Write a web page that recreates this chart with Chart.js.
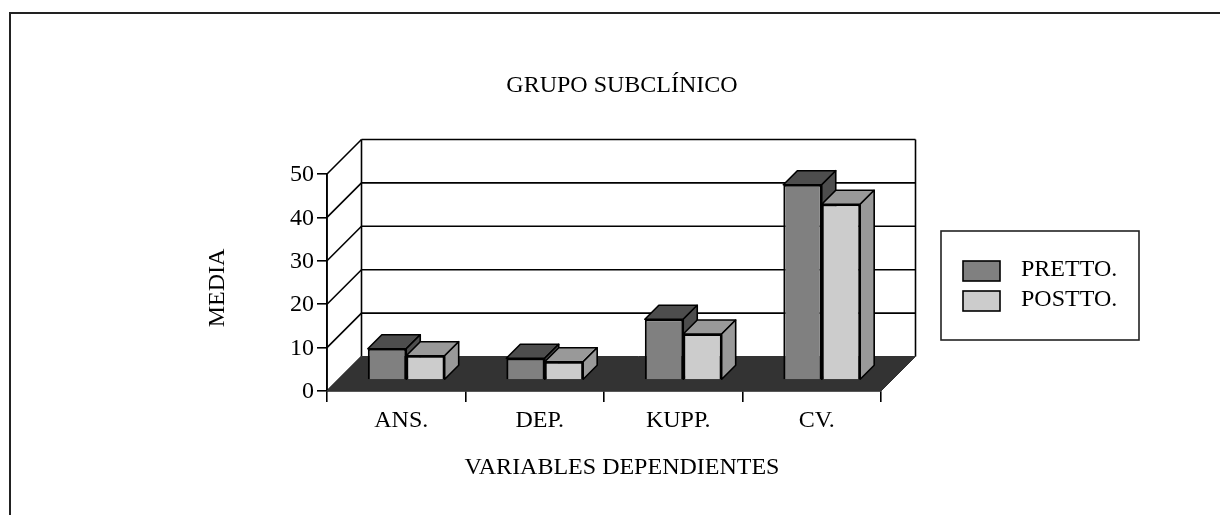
<!DOCTYPE html>
<html>
<head>
<meta charset="utf-8">
<title>Grupo subclínico</title>
<script src="https://cdn.jsdelivr.net/npm/chart.js@4"></script>
<style>
    html, body { margin: 0; padding: 0; background: #fff; }
    #wrap { position: relative; width: 1220px; height: 515px; }
</style>
</head>
<body>
<div id="wrap"><canvas id="chart"></canvas></div>
<script>
const categories = ['ANS.', 'DEP.', 'KUPP.', 'CV.'];
const seriesNames = ['PRETTO.', 'POSTTO.'];
const pretto = [7.2, 5, 14, 45];
const postto = [5.6, 4.2, 10.6, 40.5];
const yTicks = [0, 10, 20, 30, 40, 50];

const chartTitle = 'GRUPO SUBCLÍNICO';
const xTitle = 'VARIABLES DEPENDIENTES';
const yTitle = 'MEDIA';

const FONT = '"Liberation Serif", "Times New Roman", serif';
const FONT_SIZE = 24;
const BLACK = '#000';
const LINE = 1.6;

// 3D look: depth of the box, depth of a bar and where the bars stand on the floor
const WALL = 34.5;
const BAR_DEPTH = 14;
const BAR_SHIFT = 10;

function poly(ctx, pts, fill, stroke, width) {
    ctx.beginPath();
    pts.forEach((p, i) => i ? ctx.lineTo(p[0], p[1]) : ctx.moveTo(p[0], p[1]));
    ctx.closePath();
    if (fill) { ctx.fillStyle = fill; ctx.fill(); }
    if (stroke) { ctx.strokeStyle = stroke; ctx.lineWidth = width; ctx.stroke(); }
}

function line(ctx, x1, y1, x2, y2, width) {
    ctx.beginPath();
    ctx.moveTo(x1, y1);
    ctx.lineTo(x2, y2);
    ctx.strokeStyle = BLACK;
    ctx.lineWidth = width;
    ctx.stroke();
}

// sides and tops of the bars, taken from the bar elements themselves
function drawBarShade(ctx, meta, color) {
    ctx.save();
    ctx.lineJoin = 'round';
    meta.data.forEach(bar => {
        const { x, y, base, width } = bar.getProps(['x', 'y', 'base', 'width'], true);
        const l = x - width / 2;
        const r = x + width / 2;
        const d = BAR_DEPTH;
        poly(ctx, [[l, y], [r, y], [r + d, y - d], [l + d, y - d]], color, BLACK, LINE);
        poly(ctx, [[r, y], [r + d, y - d], [r + d, base - d], [r, base]], color, BLACK, LINE);
    });
    ctx.restore();
}

const boxPlugin = {
    id: 'box',
    // walls and floor behind the bars
    beforeDatasetsDraw(chart) {
        const { ctx, chartArea: a, scales: { y } } = chart;
        ctx.save();
        ctx.lineJoin = 'round';
        line(ctx, a.left + WALL, a.top - WALL, a.right + WALL, a.top - WALL, LINE);
        line(ctx, a.left + WALL, a.top - WALL, a.left + WALL, a.bottom - WALL, LINE);
        line(ctx, a.right + WALL, a.top - WALL, a.right + WALL, a.bottom - WALL, LINE);
        yTicks.forEach(v => {
            const py = y.getPixelForValue(v);
            line(ctx, a.left, py, a.left + WALL, py - WALL, LINE);
            if (v > 0 && v < 50) line(ctx, a.left + WALL, py - WALL, a.right + WALL, py - WALL, LINE);
        });
        line(ctx, a.left, a.top, a.left, a.bottom, LINE);
        poly(ctx, [
            [a.left, a.bottom],
            [a.right, a.bottom],
            [a.right + WALL, a.bottom - WALL],
            [a.left + WALL, a.bottom - WALL]
        ], '#333333', '#333333', 1);
        ctx.restore();

        // bars stand halfway back on the floor, undone again in afterDatasetsDraw
        ctx.save();
        ctx.translate(BAR_SHIFT, -BAR_SHIFT - 1);
    },
    // Chart.js paints the last dataset first, here POSTTO. has to come over PRETTO.
    beforeDatasetDraw(chart, args) {
        if (args.index === 1) return false;
    },
    afterDatasetDraw(chart, args) {
        const { ctx, data } = chart;
        drawBarShade(ctx, args.meta, data.datasets[0].shadeColor);
        const postMeta = chart.getDatasetMeta(1);
        postMeta.controller.draw();
        drawBarShade(ctx, postMeta, data.datasets[1].shadeColor);
    },
    afterDatasetsDraw(chart) {
        chart.ctx.restore();
    }
};

// titles and boxed legend
const textPlugin = {
    id: 'texts',
    afterDraw(chart) {
        const { ctx } = chart;
        ctx.save();
        ctx.font = FONT_SIZE + 'px ' + FONT;
        ctx.fillStyle = BLACK;
        ctx.textBaseline = 'middle';
        ctx.textAlign = 'center';
        ctx.fillText(chartTitle, 622, 86);
        ctx.fillText(xTitle, 622, 468);
        ctx.save();
        ctx.translate(218, 288);
        ctx.rotate(-Math.PI / 2);
        ctx.fillText(yTitle, 0, 0);
        ctx.restore();

        ctx.strokeStyle = '#222';
        ctx.lineWidth = LINE;
        ctx.strokeRect(941, 231, 198, 109);
        ctx.textAlign = 'left';
        chart.data.datasets.forEach((ds, i) => {
            const top = 261 + i * 30;
            ctx.fillStyle = ds.backgroundColor;
            ctx.fillRect(963, top, 37, 20);
            ctx.strokeStyle = BLACK;
            ctx.strokeRect(963, top, 37, 20);
            ctx.fillStyle = BLACK;
            ctx.fillText(ds.label, 1021, top + 9);
        });
        ctx.restore();
    }
};

// outer frame of the figure, only left and top show
const framePlugin = {
    id: 'frame',
    beforeDraw(chart) {
        const { ctx } = chart;
        ctx.save();
        ctx.strokeStyle = '#222';
        ctx.lineWidth = 2;
        ctx.beginPath();
        ctx.moveTo(10, 515);
        ctx.lineTo(10, 13);
        ctx.lineTo(1220, 13);
        ctx.stroke();
        ctx.restore();
    }
};

new Chart(document.getElementById('chart').getContext('2d'), {
    type: 'bar',
    data: {
        labels: categories,
        datasets: [{
            label: seriesNames[0],
            data: pretto,
            backgroundColor: '#808080',
            shadeColor: '#4d4d4d',
            borderColor: BLACK,
            borderWidth: 2
        }, {
            label: seriesNames[1],
            data: postto,
            backgroundColor: '#cccccc',
            shadeColor: '#999999',
            borderColor: BLACK,
            borderWidth: 2
        }]
    },
    options: {
        responsive: true,
        maintainAspectRatio: false,
        animation: false,
        layout: { padding: { left: 267, right: 339, top: 174, bottom: 84 } },
        datasets: { bar: { categoryPercentage: 0.555, barPercentage: 1 } },
        plugins: {
            legend: { display: false },
            title: { display: false },
            tooltip: { enabled: false }
        },
        scales: {
            x: {
                grid: { drawOnChartArea: false, tickLength: 11, color: BLACK, lineWidth: LINE },
                border: { color: BLACK, width: LINE },
                ticks: {
                    color: BLACK,
                    font: { family: FONT, size: FONT_SIZE },
                    padding: 4,
                    labelOffset: 5,
                    maxRotation: 0
                },
                afterFit: s => { s.height = 40; }
            },
            y: {
                min: yTicks[0],
                max: yTicks[yTicks.length - 1],
                grid: { drawOnChartArea: false, tickLength: 10, color: BLACK, lineWidth: LINE },
                border: { color: BLACK, width: LINE },
                ticks: {
                    stepSize: 10,
                    color: BLACK,
                    padding: 3,
                    labelOffset: 1,
                    font: { family: FONT, size: FONT_SIZE }
                },
                afterFit: s => { s.width = 60; }
            }
        }
    },
    plugins: [framePlugin, boxPlugin, textPlugin]
});
</script>
</body>
</html>
